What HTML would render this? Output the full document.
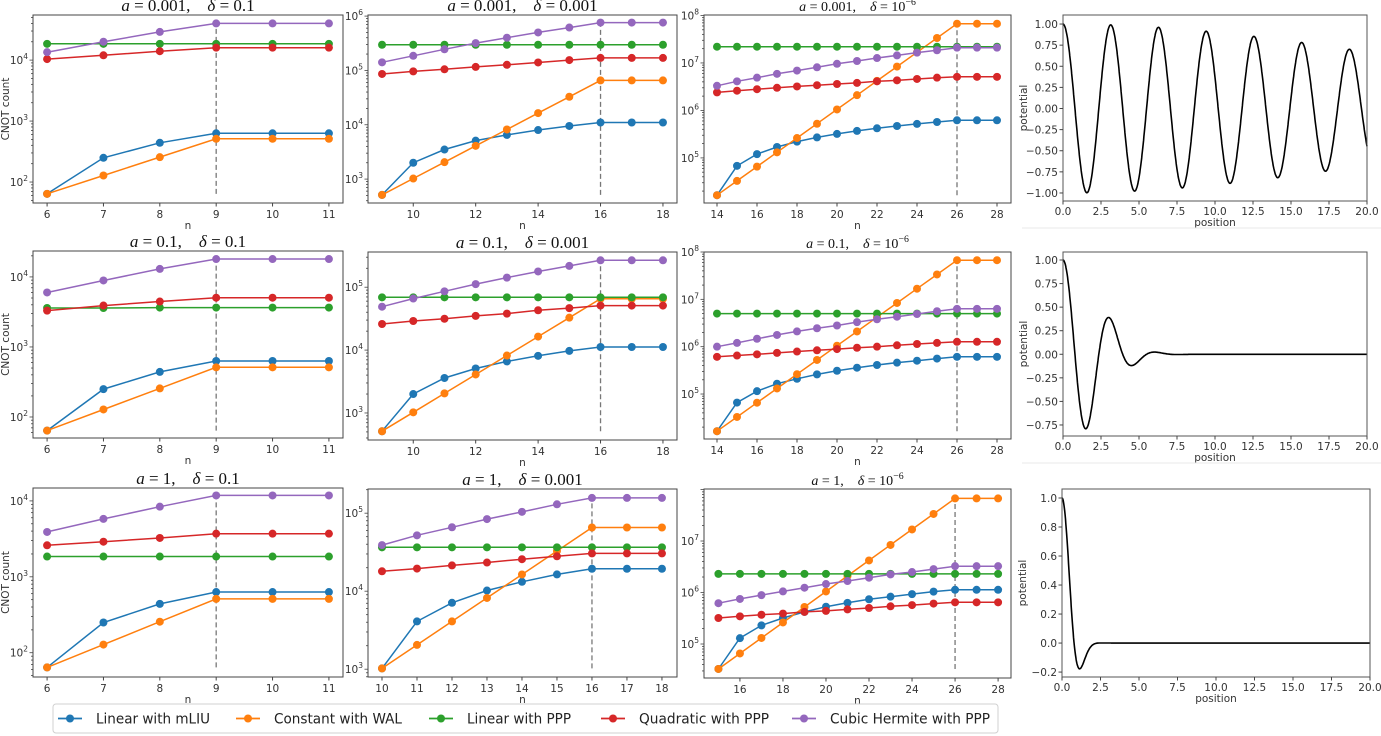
<!DOCTYPE html>
<html><head><meta charset="utf-8"><style>
html,body{margin:0;padding:0;background:#fff;}
svg{display:block;}
.tk{font-family:"DejaVu Sans","Liberation Sans",sans-serif;font-size:10.5px;fill:#333;}
.ttl{font-family:"Liberation Serif","DejaVu Serif",serif;fill:#111;}
.lg{font-family:"DejaVu Sans","Liberation Sans",sans-serif;font-size:14.5px;fill:#222;}
</style></head><body>
<svg id="fig" width="1381" height="736" viewBox="0 0 1381 736" xmlns="http://www.w3.org/2000/svg"></svg>
<script>
// ---- data: series names & colors ----
const seriesNames = ["Linear with mLIU","Constant with WAL","Linear with PPP","Quadratic with PPP","Cubic Hermite with PPP"];
const seriesColors = ["#1f77b4","#ff7f0e","#2ca02c","#d62728","#9467bd"];

// row 1 (a = 0.001)
const r1c1_n = [6,7,8,9,10,11];
const r1c1_mliu = [64,250,440,630,630,630];
const r1c1_wal = [64,128,256,512,512,512];
const r1c1_lin = [18500,18500,18500,18500,18500,18500];
const r1c1_quad = [10400,12000,14000,16000,16000,16000];
const r1c1_cub = [13500,20000,29000,40000,40000,40000];

const r1c2_n = [9,10,11,12,13,14,15,16,17,18];
const r1c2_mliu = [512,2000,3500,5100,6500,8000,9500,11000,11000,11000];
const r1c2_wal = [512,1024,2048,4096,8192,16384,32768,65536,65536,65536];
const r1c2_lin = [297000,297000,297000,297000,297000,297000,297000,297000,297000,297000];
const r1c2_quad = [86000,96000,105000,116000,127000,140000,155000,170000,170000,170000];
const r1c2_cub = [141000,186000,245000,318000,400000,500000,615000,760000,760000,760000];

const r1c3_n = [14,15,16,17,18,19,20,21,22,23,24,25,26,27,28];
const r1c3_mliu = [16384,68000,120000,170000,220000,270000,320000,370000,420000,470000,520000,570000,620000,620000,620000];
const r1c3_wal = [16384,32768,65536,131072,262144,524288,1048576,2097152,4194304,8388608,16777216,33554432,67108864,67108864,67108864];
const r1c3_lin = [22000000,22000000,22000000,22000000,22000000,22000000,22000000,22000000,22000000,22000000,22000000,22000000,22000000,22000000,22000000];
const r1c3_quad = [2400000,2600000,2800000,3000000,3200000,3400000,3600000,3800000,4100000,4300000,4600000,4900000,5100000,5100000,5100000];
const r1c3_cub = [3300000,4100000,4900000,5900000,6900000,8100000,9600000,11000000,12700000,14400000,16500000,18500000,21000000,21000000,21000000];

// row 2 (a = 0.1)
const r2c1_n = [6,7,8,9,10,11];
const r2c1_mliu = [64,250,440,630,630,630];
const r2c1_wal = [64,128,256,512,512,512];
const r2c1_lin = [3600,3600,3650,3650,3650,3650];
const r2c1_quad = [3300,3900,4450,5050,5050,5050];
const r2c1_cub = [6000,8900,13000,18000,18000,18000];

const r2c2_n = [9,10,11,12,13,14,15,16,17,18];
const r2c2_mliu = [512,2000,3600,5100,6600,8100,9700,11200,11200,11200];
const r2c2_wal = [512,1024,2048,4096,8192,16384,32768,65536,65536,65536];
const r2c2_lin = [69000,69000,69000,69000,69000,69000,69000,69000,69000,69000];
const r2c2_quad = [26000,29000,31500,35000,38000,43000,46500,51000,51000,51000];
const r2c2_cub = [49000,66000,86000,112000,142000,178000,218000,268000,268000,268000];

const r2c3_n = [14,15,16,17,18,19,20,21,22,23,24,25,26,27,28];
const r2c3_mliu = [16384,66000,115000,165000,210000,260000,310000,360000,410000,460000,505000,560000,610000,610000,610000];
const r2c3_wal = [16384,32768,65536,131072,262144,524288,1048576,2097152,4194304,8388608,16777216,33554432,67108864,67108864,67108864];
const r2c3_lin = [5000000,5000000,5000000,5000000,5000000,5000000,5000000,5000000,5000000,5000000,5000000,5000000,5000000,5000000,5000000];
const r2c3_quad = [610000,650000,690000,740000,790000,840000,890000,950000,1000000,1070000,1140000,1200000,1270000,1270000,1270000];
const r2c3_cub = [1000000,1200000,1470000,1770000,2100000,2450000,2800000,3300000,3800000,4300000,4900000,5600000,6300000,6300000,6300000];

// row 3 (a = 1)
const r3c1_n = [6,7,8,9,10,11];
const r3c1_mliu = [64,250,440,630,630,630];
const r3c1_wal = [64,128,256,512,512,512];
const r3c1_lin = [1850,1850,1850,1850,1850,1850];
const r3c1_quad = [2600,2900,3250,3700,3700,3700];
const r3c1_cub = [3900,5800,8400,11800,11800,11800];

const r3c2_n = [10,11,12,13,14,15,16,17,18];
const r3c2_mliu = [1024,4100,7100,10200,13200,16400,19400,19400,19400];
const r3c2_wal = [1024,2048,4096,8192,16384,32768,65536,65536,65536];
const r3c2_lin = [36500,36500,36500,36500,36500,36500,36500,36500,36500];
const r3c2_quad = [18000,19500,21400,23300,25700,28000,30500,30500,30500];
const r3c2_cub = [39000,52000,66000,84000,104000,130000,157000,157000,157000];

const r3c3_n = [15,16,17,18,19,20,21,22,23,24,25,26,27,28];
const r3c3_mliu = [32768,130000,230000,320000,420000,530000,630000,740000,830000,930000,1040000,1130000,1130000,1130000];
const r3c3_wal = [32768,65536,131072,262144,524288,1048576,2097152,4194304,8388608,16777216,33554432,67108864,67108864,67108864];
const r3c3_lin = [2300000,2300000,2300000,2300000,2300000,2300000,2300000,2300000,2300000,2300000,2300000,2300000,2300000,2300000];
const r3c3_quad = [320000,345000,370000,390000,420000,440000,470000,500000,540000,570000,610000,645000,645000,645000];
const r3c3_cub = [620000,750000,890000,1050000,1240000,1460000,1670000,1940000,2250000,2500000,2850000,3250000,3250000,3250000];

// tick labels
const xt_c1 = [6,7,8,9,10,11];
const xt_c2 = [10,12,14,16,18];
const xt_c2r3 = [10,11,12,13,14,15,16,17,18];
const xt_c3 = [14,16,18,20,22,24,26,28];
const xt_c3r3 = [16,18,20,22,24,26,28];
const yexp_c1 = [2,3,4];
const yexp_c2 = [3,4,5,6];
const yexp_c2r3 = [3,4,5];
const yexp_c3 = [5,6,7,8];
const yexp_c3r3 = [5,6,7];
const vlineN = [9,16,26];

// potential panels: V(x) = exp(-a x^2) cos(k x)
const potAlpha = [0.001, 0.1, 1];
const potK = [2, 2, 2];
const potXTicks = [0,2.5,5,7.5,10,12.5,15,17.5,20];
const potYTicks1 = [-1,-0.75,-0.5,-0.25,0,0.25,0.5,0.75,1];
const potYTicks2 = [-0.75,-0.5,-0.25,0,0.25,0.5,0.75,1];
const potYTicks3 = [-0.2,0,0.2,0.4,0.6,0.8,1.0];

const svg = document.getElementById('fig');
const NS = 'http://www.w3.org/2000/svg';
function mk(tag, attrs, parent){
  const e = document.createElementNS(NS, tag);
  for (const k in attrs) e.setAttribute(k, attrs[k]);
  (parent||svg).appendChild(e);
  return e;
}

function logPanel(id, box, xr, lr, n, series, xticks, yexps, vn, title, tsize, showYLabel){
  const g = mk('g', {});
  
  
  const [x0,x1,y0,y1] = box;
  const sx = v => x0 + (v - xr[0])/(xr[1]-xr[0])*(x1-x0);
  const sy = v => y1 - (Math.log10(v) - lr[0])/(lr[1]-lr[0])*(y1-y0);
  let all = [];
  series.forEach(s => all = all.concat(s));
  const vl = mk('line', {x1:sx(vn), x2:sx(vn), y1:sy(Math.min(...all)), y2:sy(Math.max(...all)), stroke:'#777', 'stroke-width':1.3, 'stroke-dasharray':'5,3'}, g);
  
  
  series.forEach((s, si) => {
    const pts = s.map((v,i) => sx(n[i]).toFixed(1)+','+sy(v).toFixed(1)).join(' ');
    const pl = mk('polyline', {points:pts, fill:'none', stroke:seriesColors[si], 'stroke-width':1.5}, g);
    
    
    s.forEach((v,i) => {
      const c = mk('circle', {cx:sx(n[i]), cy:sy(v), r:4, fill:seriesColors[si]}, g);
      
      
    });
  });
  const fr = mk('rect', {x:x0, y:y0, width:x1-x0, height:y1-y0, fill:'none', stroke:'#444', 'stroke-width':1}, g);
  
  
  xticks.forEach(t => {
    const X = sx(t);
    mk('line', {x1:X, x2:X, y1:y1, y2:y1+3.5, stroke:'#444'}, g);
    const tx = mk('text', {x:X, y:y1+15, 'text-anchor':'middle', class:'tk'}, g);
    tx.textContent = t;
    
    
  });
  const xl = mk('text', {x:(x0+x1)/2, y:y1+26, 'text-anchor':'middle', class:'tk'}, g);
  xl.textContent = 'n';
  
  
  for (let e = Math.floor(lr[0]); e <= Math.ceil(lr[1]); e++){
    for (let m = 1; m <= 9; m++){
      const lv = e + Math.log10(m);
      if (lv < lr[0] || lv > lr[1]) continue;
      const Y = sy(Math.pow(10, lv));
      mk('line', {x1:x0-(m===1?3.5:2), x2:x0, y1:Y, y2:Y, stroke:'#444', 'stroke-width':0.8}, g);
    }
  }
  yexps.forEach(e => {
    const Y = sy(Math.pow(10,e));
    const tx = mk('text', {x:x0-5, y:Y+4, 'text-anchor':'end', class:'tk'}, g);
    
    
    const a = mk('tspan', {}, tx); a.textContent = '10';
    const b = mk('tspan', {dy:-5, 'font-size':'7.5px'}, tx); b.textContent = e;
  });
  if (showYLabel){
    const yl = mk('text', {x:0, y:0, 'text-anchor':'middle', class:'tk', transform:`translate(9,${(y0+y1)/2}) rotate(-90)`}, g);
    yl.textContent = 'CNOT count';
    
    
  }
  const tt = mk('text', {x:(x0+x1)/2, y:y0-4, 'text-anchor':'middle', class:'ttl', 'font-size':tsize+'px'}, g);
  
  
  title.forEach(p => {
    const sp = mk('tspan', p.a || {}, tt);
    sp.textContent = p.t;
  });
}

function T(a, d, sup){
  const it = {'font-style':'italic'};
  const arr = [{t:'a', a:it},{t:' = '+a+',\u2002\u2002'},{t:'\u03b4', a:it}];
  if (sup){ arr.push({t:' = 10'}); arr.push({t:'\u22126', a:{dy:-6,'font-size':'0.7em'}}); }
  else arr.push({t:' = '+d});
  return arr;
}

const C1 = [33,343], C2 = [368,677], C3 = [704,1011];
const R1 = [15,203];

logPanel('panel-a0.001-d0.1', [...C1, ...R1], [5.75,11.25], [1.656,4.74], r1c1_n, [r1c1_mliu,r1c1_wal,r1c1_lin,r1c1_quad,r1c1_cub], xt_c1, yexp_c1, vlineN[0], T('0.001','0.1'), 17, true);
logPanel('panel-a0.001-d0.001', [...C2, ...R1], [8.55,18.45], [2.56,6.02], r1c2_n, [r1c2_mliu,r1c2_wal,r1c2_lin,r1c2_quad,r1c2_cub], xt_c2, yexp_c2, vlineN[1], T('0.001','0.001'), 17, false);
logPanel('panel-a0.001-d1e-6', [...C3, ...R1], [13.35,28.7], [4.05,8.01], r1c3_n, [r1c3_mliu,r1c3_wal,r1c3_lin,r1c3_quad,r1c3_cub], xt_c3, yexp_c3, vlineN[2], T('0.001','',true), 14, false);

logPanel('panel-a0.1-d0.1', [33,343,251,438], [5.75,11.25], [1.7,4.37], r2c1_n, [r2c1_mliu,r2c1_wal,r2c1_lin,r2c1_quad,r2c1_cub], xt_c1, yexp_c1, vlineN[0], T('0.1','0.1'), 17, true);
logPanel('panel-a0.1-d0.001', [368,677,252,440], [8.55,18.45], [2.57,5.56], r2c2_n, [r2c2_mliu,r2c2_wal,r2c2_lin,r2c2_quad,r2c2_cub], xt_c2, yexp_c2r3, vlineN[1], T('0.1','0.001'), 17, false);
logPanel('panel-a0.1-d1e-6', [704,1011,252,439], [13.35,28.7], [4.05,8.0], r2c3_n, [r2c3_mliu,r2c3_wal,r2c3_lin,r2c3_quad,r2c3_cub], xt_c3, yexp_c3, vlineN[2], T('0.1','',true), 14, false);

logPanel('panel-a1-d0.1', [33,343,488,677], [5.75,11.25], [1.68,4.17], r3c1_n, [r3c1_mliu,r3c1_wal,r3c1_lin,r3c1_quad,r3c1_cub], xt_c1, yexp_c1, vlineN[0], T('1','0.1'), 17, true);
logPanel('panel-a1-d0.001', [368,677,489,677], [9.6,18.43], [2.9,5.31], r3c2_n, [r3c2_mliu,r3c2_wal,r3c2_lin,r3c2_quad,r3c2_cub], xt_c2r3, yexp_c2r3, vlineN[1], T('1','0.001'), 17, false);
logPanel('panel-a1-d1e-6', [704,1011,489,678], [14.33,28.6], [4.34,8.01], r3c3_n, [r3c3_mliu,r3c3_wal,r3c3_lin,r3c3_quad,r3c3_cub], xt_c3r3, yexp_c3r3, vlineN[2], T('1','',true), 14, false);

function potPanel(id, box, yr, alpha, k, yticks, dec){
  const g = mk('g', {});
  
  
  const [x0,x1,y0,y1] = box;
  const sx = v => x0 + v/20*(x1-x0);
  const sy = v => y1 - (v-yr[0])/(yr[1]-yr[0])*(y1-y0);
  let pts = [];
  for (let i = 0; i <= 800; i++){
    const x = i*20/800;
    pts.push(sx(x).toFixed(1)+','+sy(Math.exp(-alpha*x*x)*Math.cos(k*x)).toFixed(1));
  }
  const pl = mk('polyline', {points:pts.join(' '), fill:'none', stroke:'#000', 'stroke-width':1.6}, g);
  
  
  const fr = mk('rect', {x:x0, y:y0, width:x1-x0, height:y1-y0, fill:'none', stroke:'#555', 'stroke-width':1}, g);
  
  
  potXTicks.forEach(t => {
    const X = sx(t);
    mk('line', {x1:X, x2:X, y1:y1, y2:y1+3.5, stroke:'#444'}, g);
    const tx = mk('text', {x:X, y:y1+14, 'text-anchor':'middle', class:'tk'}, g);
    tx.textContent = t.toFixed(1);
    
    
  });
  yticks.forEach(t => {
    const Y = sy(t);
    mk('line', {x1:x0-3.5, x2:x0, y1:Y, y2:Y, stroke:'#444'}, g);
    const tx = mk('text', {x:x0-5, y:Y+4, 'text-anchor':'end', class:'tk'}, g);
    tx.textContent = (t<0?'\u2212':'') + Math.abs(t).toFixed(dec);
    
    
  });
  const xl = mk('text', {x:(x0+x1)/2, y:y1+25, 'text-anchor':'middle', class:'tk'}, g);
  xl.textContent = 'position';
  
  
  const yl = mk('text', {x:0, y:0, 'text-anchor':'middle', class:'tk', transform:`translate(${x0-36},${(y0+y1)/2}) rotate(-90)`}, g);
  yl.textContent = 'potential';
  
  
}
potPanel('potential-a0.001', [1063,1367,15,201], [-1.095,1.107], potAlpha[0], potK[0], potYTicks1, 2);
potPanel('potential-a0.1', [1063,1367,252,436], [-0.867,1.085], potAlpha[1], potK[1], potYTicks2, 2);
potPanel('potential-a1', [1062,1370,489,677], [-0.234,1.062], potAlpha[2], potK[2], potYTicks3, 1);
[228,463].forEach(Y => {
  const l = mk('line', {x1:1022, x2:1381, y1:Y, y2:Y, stroke:'#e8e8e8', 'stroke-width':1});
  
  
});

// legend
const lg = mk('g', {});


const lb = mk('rect', {x:53, y:704, width:945, height:29, rx:3, fill:'#fff', stroke:'#d0d0d0', 'stroke-width':1}, lg);


const legX = [58,236,429,601,792];
const legTextW = [114,128,104,130,160];
seriesNames.forEach((nm, i) => {
  const eg = mk('g', {}, lg);
  
  
  mk('line', {x1:legX[i], x2:legX[i]+24, y1:718.5, y2:718.5, stroke:seriesColors[i], 'stroke-width':1.8}, eg);
  mk('circle', {cx:legX[i]+12, cy:718.5, r:4, fill:seriesColors[i]}, eg);
  const t = mk('text', {x:legX[i]+38, y:723.5, class:'lg', textLength:legTextW[i], lengthAdjust:'spacingAndGlyphs'}, eg);
  t.textContent = nm;
});
</script>
</body></html>
